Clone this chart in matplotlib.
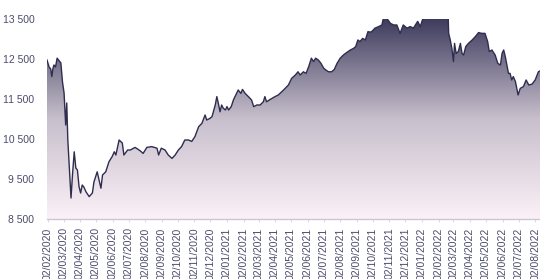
import numpy as np
import pandas as pd
import matplotlib
matplotlib.use("Agg")
import matplotlib.pyplot as plt
import matplotlib.dates as mdates
from matplotlib.colors import LinearSegmentedColormap

# ---- data: days after 2020-02-02 and index level ----
start_date = "2020-02-02"
day_offsets = [-2, 2, 5, 7, 9, 11, 14, 17, 21, 24, 27, 30, 33, 35, 37, 43, 46, 49, 52, 55,
               58, 61, 64, 67, 71, 77, 83, 86, 92, 96, 99, 102, 108, 114, 120, 124, 127, 133, 139, 142,
               149, 154, 163, 172, 178, 185, 194, 204, 207, 212, 219, 225, 232, 238, 244, 250, 256, 263, 269, 275,
               282, 288, 294, 297, 303, 307, 313, 316, 319, 322, 325, 328, 332, 335, 338, 343, 347, 353, 356, 361,
               364, 369, 375, 381, 385, 391, 397, 403, 406, 409, 416, 425, 431, 441, 450, 456, 463, 468, 472, 478,
               483, 488, 493, 497, 501, 506, 511, 516, 520, 525, 531, 536, 541, 547, 553, 559, 566, 572, 576, 580,
               584, 589, 594, 599, 603, 606, 612, 619, 625, 628, 634, 641, 647, 653, 659, 665, 672, 678, 684, 692,
               697, 701, 706, 716, 725, 734, 744, 749, 750, 753, 756, 759, 761, 764, 768, 772, 775, 778, 782, 787,
               794, 800, 806, 812, 818, 823, 826, 831, 837, 842, 847, 850, 853, 856, 859, 862, 865, 868, 871, 875,
               880, 884, 890, 895, 900, 906, 912, 918, 921]
values = [12475, 12300, 12250, 12060, 12250, 12350, 12300, 12520, 12450, 12400, 11930, 11650, 10850, 11400, 10475, 9025, 9650, 10180, 9775, 9725,
          9310, 9150, 9350, 9300, 9180, 9060, 9150, 9430, 9680, 9450, 9270, 9600, 9680, 9930, 10060, 10180, 10100, 10475, 10400, 10100,
          10225, 10225, 10290, 10210, 10140, 10290, 10310, 10270, 10100, 10270, 10225, 10100, 10015, 10100, 10225, 10310, 10475, 10475, 10440, 10560,
          10810, 10890, 11100, 10975, 11015, 11060, 11350, 11560, 11380, 11180, 11350, 11270, 11225, 11310, 11225, 11310, 11475, 11640, 11725, 11640,
          11740, 11640, 11560, 11475, 11310, 11350, 11350, 11430, 11560, 11430, 11490, 11560, 11600, 11725, 11850, 12015, 12100, 12180, 12100, 12180,
          12140, 12310, 12520, 12435, 12520, 12475, 12390, 12270, 12225, 12180, 12180, 12240, 12390, 12520, 12600, 12660, 12725, 12765, 12810, 12975,
          12935, 13015, 12975, 13185, 13170, 13185, 13270, 13310, 13350, 13530, 13520, 13390, 13350, 13350, 13140, 13350, 13270, 13310, 13270, 13440,
          13310, 13480, 13620, 13700, 13750, 13680, 13720, 13600, 13140, 12975, 12765, 12435, 12890, 12640, 12685, 12890, 12640, 12600, 12810, 12890,
          12975, 13060, 13160, 13140, 13140, 12935, 12685, 12725, 12600, 12390, 12350, 12640, 12725, 12560, 12350, 12140, 12140, 11975, 12060, 11935,
          11600, 11765, 11810, 11975, 11850, 11870, 11975, 12180, 12200]

y_ticks = [8500, 9500, 10500, 11500, 12500, 13500]
y_tick_labels = ["8 500", "9 500", "10 500", "11 500", "12 500", "13 500"]
tick_dates = pd.date_range("2020-02-01", "2022-08-01", freq="MS") + pd.Timedelta(days=1)

dates = pd.to_datetime(start_date) + pd.to_timedelta(day_offsets, unit="D")
xnum = mdates.date2num(dates.to_pydatetime())
vals = np.array(values, dtype=float)

plt.rcParams['font.family'] = ['Liberation Sans', 'DejaVu Sans']

fig = plt.figure(figsize=(5.4, 2.79), dpi=100)
ax = fig.add_axes([0.087, 0.215, 0.913, 0.717])

ymin, ymax = 8500, 13500
xmin, xmax = xnum[0], xnum[-1]

# gradient fill clipped to the area under the curve
cmap = LinearSegmentedColormap.from_list("g", ["#fbf1f7", "#c7bfcc", "#3d3a5c"])
grad = np.linspace(0, 1, 256).reshape(-1, 1)
im = ax.imshow(grad, extent=[xmin, xmax, ymin, ymax], origin="lower",
               aspect="auto", cmap=cmap, zorder=1)
poly = ax.fill_between(xnum, vals, ymin, color="none", lw=0)
im.set_clip_path(poly.get_paths()[0], transform=ax.transData)

ax.plot(xnum, vals, color="#2f2d4f", lw=1.0, zorder=3)

ax.set_xlim(xmin, xmax)
ax.set_ylim(ymin, ymax)

ax.set_yticks(y_ticks)
ax.set_yticklabels(y_tick_labels)
ax.set_xticks(mdates.date2num(tick_dates.to_pydatetime()))
ax.set_xticklabels([d.strftime("%d/%m/%Y") for d in tick_dates], rotation=90)

for s in ["top", "right", "left"]:
    ax.spines[s].set_visible(False)
ax.spines["bottom"].set_color("#c9c6d6")
ax.spines["bottom"].set_linewidth(1.0)

ax.tick_params(axis="y", length=0, pad=9, labelsize=7.5, labelcolor="#4b4b6b")
ax.tick_params(axis="x", length=2, width=0.6, color="#d5d2de", pad=4,
               labelsize=7.5, labelcolor="#4b4b6b")

fig.savefig("out.png", dpi=100)
